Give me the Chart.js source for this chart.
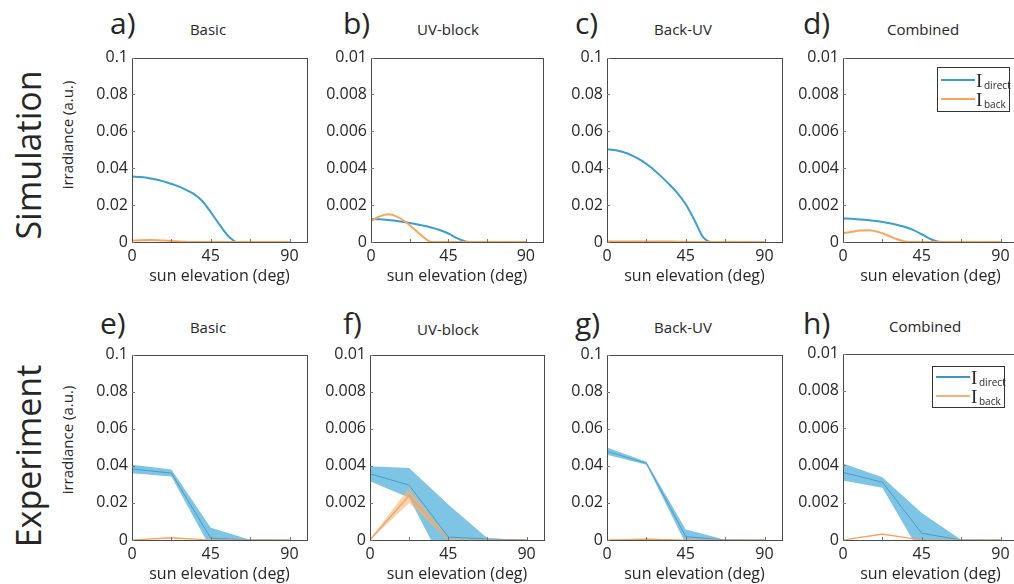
<!DOCTYPE html>
<html>
<head>
<meta charset="utf-8">
<script src="https://cdn.jsdelivr.net/npm/chart.js@4.4.1/dist/chart.umd.min.js"></script>
<style>
  body { margin:0; width:1014px; height:584px; overflow:hidden; background:#fff; position:relative; font-family:'Open Sans', sans-serif; color:#262626; }
  canvas { position:absolute; }
  .txt { position:absolute; white-space:nowrap; line-height:1; }
  .rot { position:absolute; white-space:nowrap; line-height:1; transform:translate(-50%,-50%) rotate(-90deg); }
  .leg { position:absolute; width:71px; border:1px solid #333; background:#fff; }
  .leg .ln { position:absolute; left:3px; width:34px; height:2px; }
  .leg .I { position:absolute; left:38px; font-family:'Liberation Serif', serif; font-size:19px; line-height:1; }
  .leg .sub { position:absolute; left:46px; font-size:10px; line-height:1; }
</style>
</head>
<body>

<div class="rot" style="left:28px;top:155px;font-size:34px;">Simulation</div>
<div class="rot" style="left:28px;top:456px;font-size:34px;">Experiment</div>
<div class="rot" style="left:67px;top:135px;font-size:15px;">irradiance (a.u.)</div>
<div class="rot" style="left:67px;top:440px;font-size:15px;">irradiance (a.u.)</div>

<div class="txt" style="left:110px;top:8px;font-size:30px;">a)</div>
<div class="txt" style="left:343px;top:8px;font-size:30px;">b)</div>
<div class="txt" style="left:575px;top:8px;font-size:30px;">c)</div>
<div class="txt" style="left:803px;top:8px;font-size:30px;">d)</div>
<div class="txt" style="left:100px;top:308px;font-size:30px;">e)</div>
<div class="txt" style="left:343px;top:308px;font-size:30px;">f)</div>
<div class="txt" style="left:575px;top:308px;font-size:30px;">g)</div>
<div class="txt" style="left:803px;top:308px;font-size:30px;">h)</div>

<div class="txt" style="left:208px;top:22px;font-size:15px;transform:translateX(-50%)">Basic</div>
<div class="txt" style="left:448px;top:22px;font-size:15px;transform:translateX(-50%)">UV-block</div>
<div class="txt" style="left:683px;top:22px;font-size:15px;transform:translateX(-50%)">Back-UV</div>
<div class="txt" style="left:923px;top:22px;font-size:15px;transform:translateX(-50%)">Combined</div>
<div class="txt" style="left:208px;top:320px;font-size:15px;transform:translateX(-50%)">Basic</div>
<div class="txt" style="left:448px;top:322px;font-size:15px;transform:translateX(-50%)">UV-block</div>
<div class="txt" style="left:683px;top:320px;font-size:15px;transform:translateX(-50%)">Back-UV</div>
<div class="txt" style="left:925px;top:319px;font-size:15px;transform:translateX(-50%)">Combined</div>

<canvas id="pa"></canvas>
<canvas id="pb"></canvas>
<canvas id="pc"></canvas>
<canvas id="pd"></canvas>
<canvas id="pe"></canvas>
<canvas id="pf"></canvas>
<canvas id="pg"></canvas>
<canvas id="ph"></canvas>

<div class="leg" style="left:937px;top:67px;height:43px;">
  <div class="ln" style="top:11px;background:#3a9fd0"></div><div class="I" style="top:3px">I</div><div class="sub" style="top:12px">direct</div>
  <div class="ln" style="top:30px;background:#fba55a"></div><div class="I" style="top:22px">I</div><div class="sub" style="top:31px">back</div>
</div>
<div class="leg" style="left:932px;top:366px;height:40px;">
  <div class="ln" style="top:9px;background:#3f95c2"></div><div class="I" style="top:1px">I</div><div class="sub" style="top:10px">direct</div>
  <div class="ln" style="top:28px;background:#f7b27a"></div><div class="I" style="top:20px">I</div><div class="sub" style="top:29px">back</div>
</div>

<script>
// ---- data ----
const simAngles = [0,5,10,15,20,25,30,35,40,45,50,55,60,65,70,75,80,85,90];
const simBasicDirect = [0.0355,0.0352,0.0346,0.0336,0.0323,0.0307,0.0287,0.0262,0.0224,0.0162,0.0094,0.0033,0,0,0,0,0,0,0];
const simBasicBack   = [0.0008,0.0010,0.0011,0.0010,0.0007,0.0004,0.0001,0,0,0,0,0,0,0,0,0,0,0,0];
const simUVDirect    = [0.00125,0.00123,0.00119,0.00114,0.00107,0.00099,0.0009,0.00079,0.00065,0.00046,0.00021,0.00003,0,0,0,0,0,0,0];
const simUVBack      = [0.00115,0.00138,0.0015,0.00138,0.0011,0.0007,0.0003,0,0,0,0,0,0,0,0,0,0,0,0];
const simBackDirect  = [0.0503,0.0497,0.0485,0.0466,0.0440,0.0405,0.0364,0.0318,0.0268,0.0205,0.0118,0.0025,0,0,0,0,0,0,0];
const simBackBack    = [0.0003,0.0003,0.0003,0.0003,0.0003,0.0003,0.0003,0.0003,0.0002,0.0001,0,0,0,0,0,0,0,0,0];
const simCombDirect  = [0.00127,0.00126,0.00122,0.00118,0.00112,0.00104,0.00095,0.00083,0.00066,0.00042,0.00016,0.00001,0,0,0,0,0,0,0];
const simCombBack    = [0.00047,0.00055,0.00062,0.00064,0.00055,0.00038,0.00018,0.00003,0,0,0,0,0,0,0,0,0,0,0];

const expAngles = [0,22.5,45,67.5,90];
const expBasicDirect   = [0.0383,0.0361,0.001,0,0];
const expBasicDirectHi = [0.0406,0.038,0.0066,0.0002,0];
const expBasicDirectLo = [0.036,0.0342,-0.0045,-0.0002,0];
const expBasicBack     = [0,0.0012,0,0,0];
const expBasicBackHi   = [0.0002,0.0018,0.0002,0,0];
const expBasicBackLo   = [0,0.0006,0,0,0];

const expUVDirect   = [0.00357,0.00296,0.00016,0.00005,0];
const expUVDirectHi = [0.00398,0.00389,0.00192,0.0001,0];
const expUVDirectLo = [0.00317,0.00228,-0.00182,-0.0001,0];
const expUVBack     = [0,0.0024,0,0,0];
const expUVBackHi   = [0.00005,0.0028,0.00005,0,0];
const expUVBackLo   = [0,0.002,0,0,0];

const expBackDirect   = [0.0478,0.0414,0.0018,0,0];
const expBackDirectHi = [0.0499,0.0422,0.0057,0.0002,0];
const expBackDirectLo = [0.046,0.0406,-0.002,-0.0002,0];
const expBackBack     = [0,0.0005,0,0,0];
const expBackBackHi   = [0.0002,0.0008,0.0002,0,0];
const expBackBackLo   = [0,0.0002,0,0,0];

const expCombDirect   = [0.00363,0.0031,0.00036,0,0];
const expCombDirectHi = [0.00411,0.00337,0.00145,0.00002,0];
const expCombDirectLo = [0.00319,0.0028,-0.00082,-0.00002,0];
const expCombBack     = [0,0.00032,0,0,0];
const expCombBackHi   = [0.00003,0.00036,0.00002,0,0];
const expCombBackLo   = [0,0.00028,0,0,0];

const xTickLabels = [0,45,90];

const BLUE = '#3a9fd0', ORANGE = '#fba55a';
const TXT = '#262626';

Chart.defaults.font.family = "'Open Sans', sans-serif";
Chart.defaults.color = TXT;

const pts = (xs, ys) => xs.map((x, i) => ({x: x, y: ys[i]}));

// box round the plot + small inward ticks, like the matlab figure
const boxPlugin = {
    id: 'box',
    afterDraw(chart){
        const {ctx, chartArea: a, scales} = chart;
        ctx.save();
        ctx.strokeStyle = '#4a4a4a';
        ctx.lineWidth = 1;
        ctx.strokeRect(Math.round(a.left)+0.5, Math.round(a.top)+0.5, Math.round(a.right-a.left), Math.round(a.bottom-a.top));
        ctx.strokeStyle = '#777';
        ctx.beginPath();
        scales.x.ticks.forEach(t => {
            if(t.value <= 0 || t.value > 90) return;
            const px = Math.round(scales.x.getPixelForValue(t.value)) + 0.5;
            ctx.moveTo(px, a.bottom); ctx.lineTo(px, a.bottom - 3);
        });
        scales.y.ticks.forEach(t => {
            const py = Math.round(scales.y.getPixelForValue(t.value)) + 0.5;
            ctx.moveTo(a.left, py); ctx.lineTo(a.left + 3, py);
        });
        ctx.stroke();
        ctx.restore();
    }
};

const makePanel = (id, left, top, width, height, yMax, datasets) => {
    const cv = document.getElementById(id);
    cv.width = width; cv.height = height;
    cv.style.left = left + 'px'; cv.style.top = top + 'px';
    new Chart(cv.getContext('2d'), {
        type: 'line',
        data: { datasets: datasets },
        options: {
            responsive: false,
            animation: false,
            devicePixelRatio: 1,
            layout: { padding: { top: 12, right: 6, left: 0, bottom: 0 } },
            plugins: { legend: { display: false }, tooltip: { enabled: false } },
            elements: { point: { radius: 0 } },
            scales: {
                x: {
                    type: 'linear', min: 0, max: 100,
                    afterFit: s => { s.height = 44; },
                    grid: { display: false, drawTicks: false },
                    border: { display: false },
                    ticks: {
                        stepSize: 22.5, padding: 5, maxRotation: 0, autoSkip: false, includeBounds: false,
                        font: { size: 16 }, color: TXT,
                        callback: v => xTickLabels.includes(v) ? String(v) : ''
                    },
                    title: { display: true, text: 'sun elevation (deg)', font: { size: 16 }, color: TXT, padding: 0 }
                },
                y: {
                    min: 0, max: yMax,
                    afterFit: s => { s.width = 50; },
                    grid: { display: false, drawTicks: false },
                    border: { display: false },
                    ticks: {
                        stepSize: yMax / 5, padding: 4,
                        font: { size: 16 }, color: TXT,
                        callback: v => String(parseFloat(v.toFixed(4)))
                    }
                }
            }
        },
        plugins: [boxPlugin]
    });
};

const simSets = (direct, back) => [
    { data: pts(simAngles, back), borderColor: ORANGE, borderWidth: 2, fill: false, cubicInterpolationMode: 'monotone' },
    { data: pts(simAngles, direct), borderColor: BLUE, borderWidth: 2, fill: false, cubicInterpolationMode: 'monotone' }
];

// dataset 0 is drawn last (on top)
const expSets = (d, dHi, dLo, b, bHi, bLo) => [
    { data: pts(expAngles, b), borderColor: '#f4a261', borderWidth: 1.2, fill: false },
    { data: pts(expAngles, bHi), borderWidth: 0, borderColor: 'rgba(0,0,0,0)', backgroundColor: 'rgba(250,180,115,0.6)', fill: 2 },
    { data: pts(expAngles, bLo), borderWidth: 0, borderColor: 'rgba(0,0,0,0)', fill: false },
    { data: pts(expAngles, d), borderColor: '#4a9cc8', borderWidth: 1, fill: false },
    { data: pts(expAngles, dHi), borderWidth: 0, borderColor: 'rgba(0,0,0,0)', backgroundColor: 'rgba(112,190,225,0.9)', fill: 5 },
    { data: pts(expAngles, dLo), borderWidth: 0, borderColor: 'rgba(0,0,0,0)', fill: false }
];

makePanel('pa', 82, 44, 231, 242, 0.1, simSets(simBasicDirect, simBasicBack));
makePanel('pb', 321, 44, 228, 242, 0.01, simSets(simUVDirect, simUVBack));
makePanel('pc', 557, 44, 231, 242, 0.1, simSets(simBackDirect, simBackBack));
makePanel('pd', 793, 44, 231, 242, 0.01, simSets(simCombDirect, simCombBack));

makePanel('pe', 82, 341, 231, 243, 0.1, expSets(expBasicDirect, expBasicDirectHi, expBasicDirectLo, expBasicBack, expBasicBackHi, expBasicBackLo));
makePanel('pf', 320, 341, 230, 243, 0.01, expSets(expUVDirect, expUVDirectHi, expUVDirectLo, expUVBack, expUVBackHi, expUVBackLo));
makePanel('pg', 557, 341, 231, 243, 0.1, expSets(expBackDirect, expBackDirectHi, expBackDirectLo, expBackBack, expBackBackHi, expBackBackLo));
makePanel('ph', 793, 340, 231, 244, 0.01, expSets(expCombDirect, expCombDirectHi, expCombDirectLo, expCombBack, expCombBackHi, expCombBackLo));
</script>
</body>
</html>
